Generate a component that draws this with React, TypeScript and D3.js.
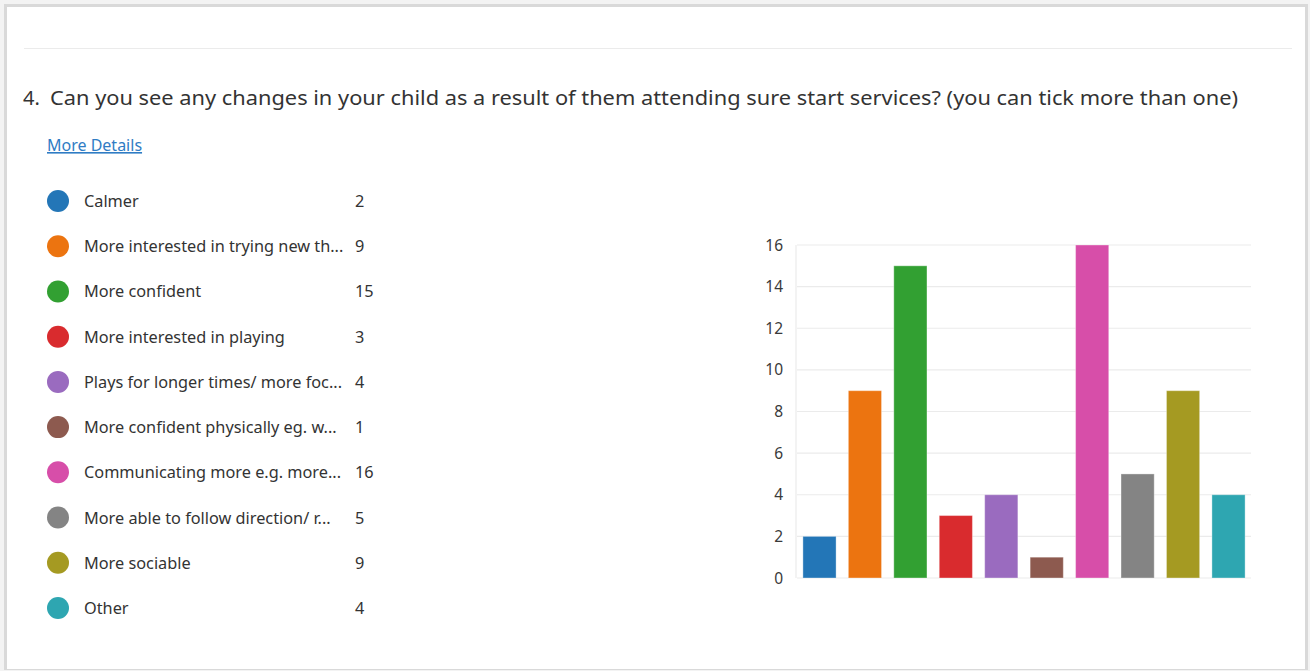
import React from "react";
import { scaleBand, scaleLinear } from "d3";

const title =
  "Can you see any changes in your child as a result of them attending sure start services? (you can tick more than one)";
const labels = [
  "Calmer",
  "More interested in trying new th...",
  "More confident",
  "More interested in playing",
  "Plays for longer times/ more foc...",
  "More confident physically eg. w...",
  "Communicating more e.g. more...",
  "More able to follow direction/ r...",
  "More sociable",
  "Other",
];
const counts = [2, 9, 15, 3, 4, 1, 16, 5, 9, 4];
const colors = [
  "#2376b7",
  "#ec7410",
  "#32a032",
  "#d92b2e",
  "#9a6bbf",
  "#8d5a4f",
  "#d74ea9",
  "#848484",
  "#a59a22",
  "#2ea6b1",
];
const yTicks = [0, 2, 4, 6, 8, 10, 12, 14, 16];

const W = 1310;
const H = 671;
const font = "'Segoe UI', 'Noto Sans', sans-serif";

const App = () => {
  // chart scales
  const x = scaleBand<number>()
    .domain(counts.map((_, i) => i))
    .range([797, 1251])
    .paddingInner(0.27)
    .paddingOuter(0.13);
  const y = scaleLinear().domain([0, 16]).range([578, 245]);

  // legend rows
  const row = scaleLinear().domain([0, 9]).range([201, 608]);

  return (
    <svg
      width={W}
      height={H}
      viewBox={`0 0 ${W} ${H}`}
      style={{ position: "absolute", left: 0, top: 0, background: "#f3f3f3" }}
      fontFamily={font}
    >
      {/* card */}
      <rect x={4} y={4} width={1304} height={666} fill="#d9d9d9" />
      <rect x={7} y={7} width={1298} height={662} fill="#ffffff" />
      <line x1={24} x2={1292} y1={48.5} y2={48.5} stroke="#ebebeb" />

      <text x={23} y={105} fontSize={20} fill="#333">
        4.
      </text>
      <text x={50} y={105} fontSize={20} fill="#333" textLength={1188} lengthAdjust="spacingAndGlyphs">
        {title}
      </text>
      <text x={47} y={151} fontSize={16} fill="#2f7cc4" textDecoration="underline">
        More Details
      </text>

      {/* legend */}
      {labels.map((l, i) => (
        <g key={l} transform={`translate(0,${row(i)})`}>
          <circle cx={58} cy={0} r={11} fill={colors[i]} />
          <text x={84} y={6} fontSize={16.3} fill="#333">
            {l}
          </text>
          <text x={355} y={6} fontSize={16.3} fill="#333">
            {counts[i]}
          </text>
        </g>
      ))}

      {/* grid + axis */}
      {yTicks.map((t) => (
        <g key={t}>
          <line x1={797} x2={1251} y1={y(t)} y2={y(t)} stroke="#ebebeb" strokeWidth={1.2} />
          <text x={783} y={y(t) + 5.5} fontSize={15.5} fill="#3a3a3a" textAnchor="end">
            {t}
          </text>
        </g>
      ))}
      <line x1={796} x2={796} y1={245} y2={578} stroke="#ebebeb" strokeWidth={1.2} />

      {/* bars */}
      {counts.map((c, i) => (
        <rect
          key={i}
          x={x(i)}
          y={y(c)}
          width={x.bandwidth()}
          height={y(0) - y(c)}
          fill={colors[i]}
          stroke="#ffffff"
          strokeOpacity={0.35}
        />
      ))}
    </svg>
  );
};

export default App;
